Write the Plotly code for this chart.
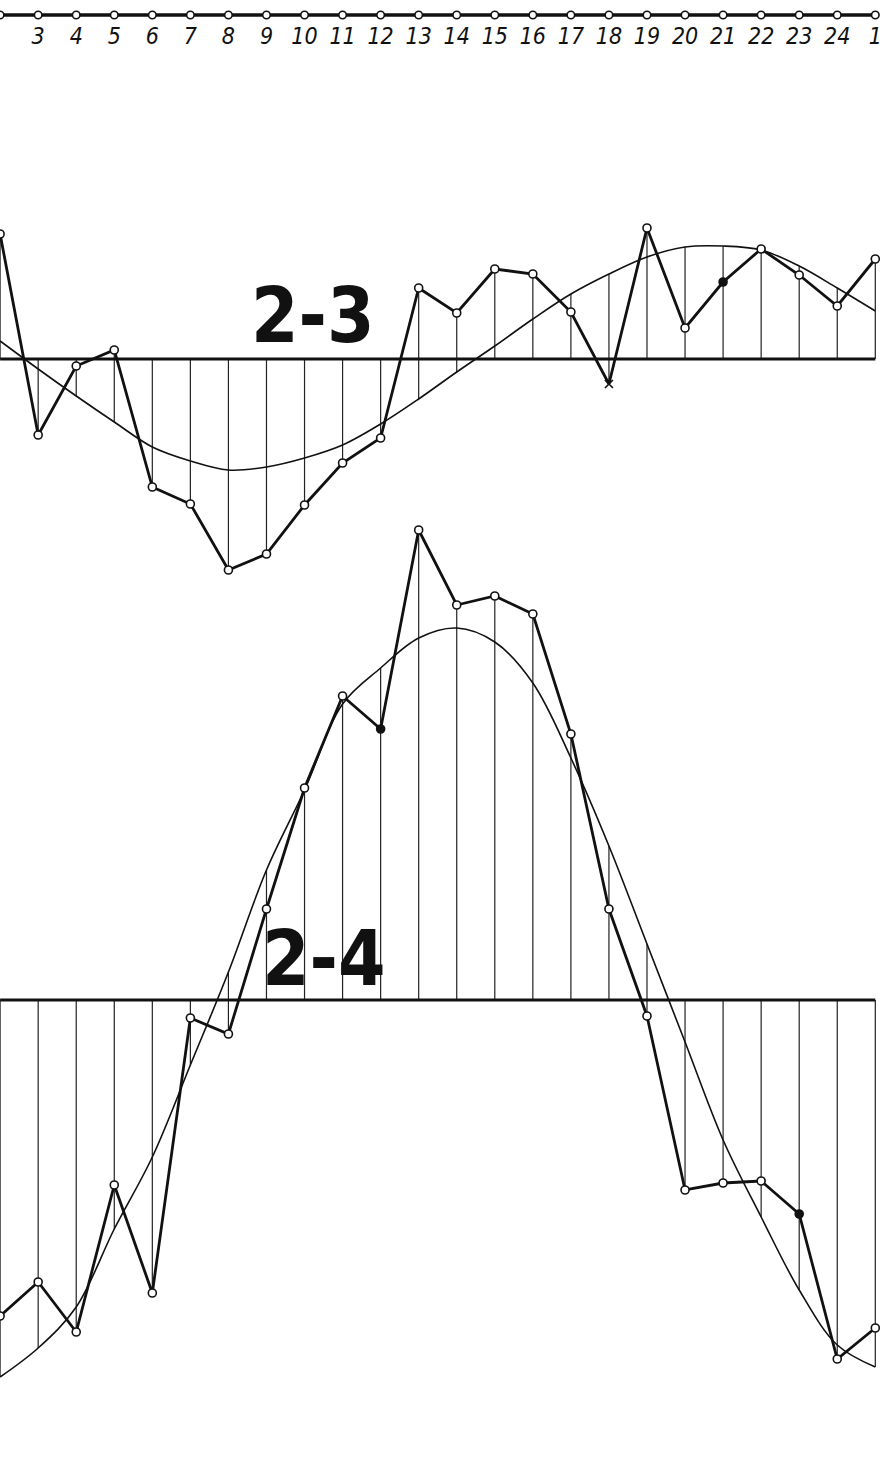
import plotly.graph_objects as go

# Hours of the day (2 .. 25, where 25 is shown as "1" of the next day)
HOURS = list(range(2, 26))
LABEL_HOURS = list(range(3, 26))
HOUR_LABELS = [str(h) for h in range(3, 25)] + ["1"]

# Difference 2-3: observed hourly values and the smoothed harmonic curve
OBS_23 = [12.5, -7.6, -0.7, 0.9, -12.8, -14.5, -21.1, -19.5, -14.6, -10.4, -7.9, 7.1,
          4.6, 9.0, 8.5, 4.7, -2.5, 13.1, 3.1, 7.7, 11.0, 8.4, 5.3, 10.0]
FIT_23 = [1.8, -1.0, -3.7, -6.3, -8.8, -10.2, -11.1, -10.8, -9.9, -8.6, -6.5, -4.0,
          -1.3, 1.3, 4.0, 6.5, 8.5, 10.2, 11.2, 11.3, 10.9, 9.3, 7.1, 4.8]

# Difference 2-4: observed hourly values and the smoothed harmonic curve
OBS_24 = [-31.6, -28.2, -33.2, -18.5, -29.3, -1.8, -3.4, 9.1, 21.2, 30.4, 27.1, 47.0,
          39.5, 40.4, 38.6, 26.6, 9.1, -1.6, -19.0, -18.3, -18.1, -21.4, -35.9, -32.8]
FIT_24 = [-37.7, -34.8, -30.7, -22.9, -15.7, -6.5, 2.8, 13.0, 21.0, 29.6, 33.2, 36.2,
          37.2, 35.8, 31.7, 24.2, 15.4, 5.6, -4.2, -14.0, -21.7, -29.0, -34.5, -36.7]

INK = "#111111"


def stems(obs, fit):
    """Vertical hatch lines spanning the zero line, the observation and the curve."""
    xs, ys = [], []
    for h, a, b in zip(HOURS, obs, fit):
        xs += [h, h, None]
        ys += [min(0, a, b), max(0, a, b), None]
    return xs, ys


def panel(fig, obs, fit, yaxis, symbols, fills):
    sx, sy = stems(obs, fit)
    fig.add_trace(go.Scatter(x=sx, y=sy, mode="lines", yaxis=yaxis,
                             line=dict(color="#222222", width=1.2), hoverinfo="skip"))
    fig.add_trace(go.Scatter(x=[HOURS[0], HOURS[-1]], y=[0, 0], mode="lines", yaxis=yaxis,
                             line=dict(color=INK, width=3.2), hoverinfo="skip"))
    fig.add_trace(go.Scatter(x=HOURS, y=fit, mode="lines", yaxis=yaxis,
                             line=dict(color=INK, width=1.6, shape="spline", smoothing=1.0)))
    fig.add_trace(go.Scatter(x=HOURS, y=obs, mode="lines+markers", yaxis=yaxis,
                             line=dict(color=INK, width=2.8),
                             marker=dict(symbol=symbols, size=8, color=fills,
                                         line=dict(color=INK, width=1.6))))


fig = go.Figure()

sym23 = ["circle"] * len(HOURS)
sym23[HOURS.index(18)] = "x-thin"
fill23 = ["white"] * len(HOURS)
fill23[HOURS.index(21)] = INK
panel(fig, OBS_23, FIT_23, "y2", sym23, fill23)

sym24 = ["circle"] * len(HOURS)
fill24 = ["white"] * len(HOURS)
fill24[HOURS.index(12)] = INK
fill24[HOURS.index(23)] = INK
panel(fig, OBS_24, FIT_24, "y", sym24, fill24)

# Hour scale across the top
fig.add_trace(go.Scatter(x=HOURS, y=[0] * len(HOURS), mode="lines+markers", yaxis="y3",
                         line=dict(color=INK, width=3.4),
                         marker=dict(symbol="circle", size=7.5, color="white",
                                     line=dict(color=INK, width=1.6))))
fig.add_trace(go.Scatter(x=LABEL_HOURS, y=[-23] * len(LABEL_HOURS), mode="text", yaxis="y3",
                         text=HOUR_LABELS,
                         textfont=dict(family="DejaVu Sans Condensed, DejaVu Sans", size=23,
                                       style="italic", color=INK)))

big = dict(family="Liberation Sans Narrow, DejaVu Sans Condensed, DejaVu Sans",
           size=76, weight="bold", color=INK)
fig.add_annotation(x=10.23, y=4.4, xref="x", yref="y2", text="2-3", showarrow=False, font=big)
fig.add_annotation(x=10.5, y=4.2, xref="x", yref="y", text="2-4", showarrow=False, font=big)

H = 1466
fig.update_layout(
    width=889, height=H, margin=dict(l=0, r=0, t=0, b=0),
    paper_bgcolor="white", plot_bgcolor="rgba(0,0,0,0)", showlegend=False,
    xaxis=dict(range=[1.997, 25.36], visible=False, domain=[0, 1], anchor="y"),
    yaxis=dict(domain=[0, 1 - 470 / H], range=[-46.6, 53.0], visible=False, anchor="x"),
    yaxis2=dict(domain=[1 - 640 / H, 1 - 60 / H], range=[-28.1, 29.9], visible=False, anchor="x"),
    yaxis3=dict(domain=[1 - 55 / H, 1], range=[-40, 15], visible=False, anchor="x"),
)

fig.write_html("out.html")
